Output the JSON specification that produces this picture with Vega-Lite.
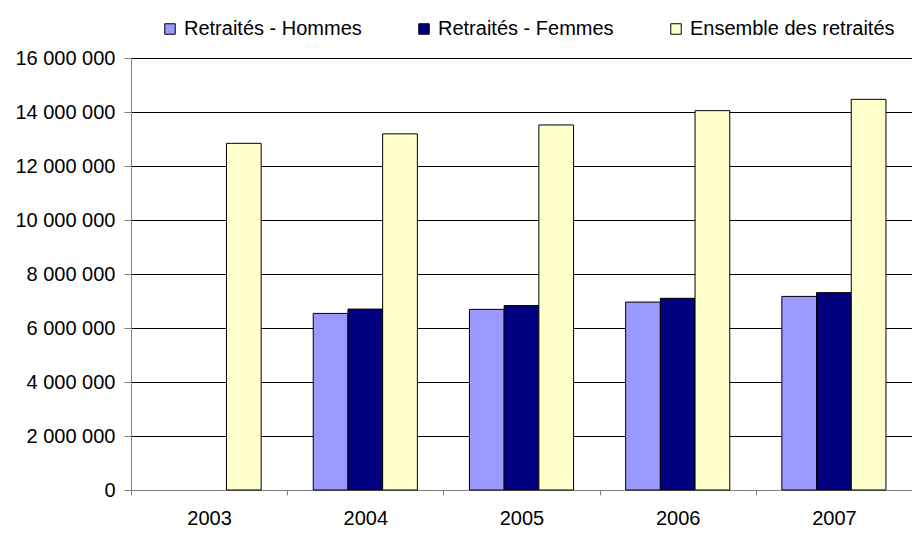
{
  "$schema": "https://vega.github.io/schema/vega-lite/v6.json",
  "width": 781,
  "height": 432,
  "autosize": {"type": "none"},
  "padding": {"left": 131, "top": 58, "right": 0, "bottom": 43},
  "background": "white",
  "config": {
    "font": "Liberation Sans",
    "view": {"stroke": null},
    "locale": {"number": {"decimal": ",", "thousands": " ", "grouping": [3], "currency": ["", " €"]}}
  },
  "data": {
    "values": [
      {"year": "2003", "series": "Ensemble des retraités", "value": 12840000},
      {"year": "2004", "series": "Retraités - Hommes", "value": 6540000},
      {"year": "2004", "series": "Retraités - Femmes", "value": 6700000},
      {"year": "2004", "series": "Ensemble des retraités", "value": 13190000},
      {"year": "2005", "series": "Retraités - Hommes", "value": 6690000},
      {"year": "2005", "series": "Retraités - Femmes", "value": 6830000},
      {"year": "2005", "series": "Ensemble des retraités", "value": 13520000},
      {"year": "2006", "series": "Retraités - Hommes", "value": 6960000},
      {"year": "2006", "series": "Retraités - Femmes", "value": 7100000},
      {"year": "2006", "series": "Ensemble des retraités", "value": 14050000},
      {"year": "2007", "series": "Retraités - Hommes", "value": 7170000},
      {"year": "2007", "series": "Retraités - Femmes", "value": 7310000},
      {"year": "2007", "series": "Ensemble des retraités", "value": 14470000}
    ]
  },
  "mark": {"type": "bar", "stroke": "#000000", "strokeWidth": 1},
  "encoding": {
    "x": {
      "field": "year",
      "type": "nominal",
      "scale": {"paddingInner": 0, "paddingOuter": 0},
      "axis": {
        "title": null,
        "labelAngle": 0,
        "labelFontSize": 20,
        "labelColor": "#000000",
        "labelPadding": 13,
        "tickBand": "extent",
        "tickSize": 5,
        "tickColor": "#808080",
        "domainColor": "#808080",
        "grid": false
      }
    },
    "xOffset": {
      "field": "series",
      "type": "nominal",
      "sort": ["Retraités - Hommes", "Retraités - Femmes", "Ensemble des retraités"],
      "scale": {"paddingInner": 0, "paddingOuter": 0.75}
    },
    "y": {
      "field": "value",
      "type": "quantitative",
      "scale": {"domain": [0, 16000000], "nice": false},
      "axis": {
        "title": null,
        "values": [0, 2000000, 4000000, 6000000, 8000000, 10000000, 12000000, 14000000, 16000000],
        "format": ",d",
        "labelFontSize": 20,
        "labelColor": "#000000",
        "labelPadding": 9,
        "tickSize": 7,
        "tickColor": "#808080",
        "domainColor": "#808080",
        "gridColor": "#000000",
        "gridWidth": 1,
        "gridOpacity": 1
      }
    },
    "color": {
      "field": "series",
      "type": "nominal",
      "sort": ["Retraités - Hommes", "Retraités - Femmes", "Ensemble des retraités"],
      "scale": {
        "domain": ["Retraités - Hommes", "Retraités - Femmes", "Ensemble des retraités"],
        "range": ["#9999FF", "#000080", "#FFFFCC"]
      },
      "legend": {
        "title": null,
        "orient": "none",
        "direction": "horizontal",
        "legendX": 29,
        "legendY": -39,
        "symbolType": "square",
        "symbolSize": 110,
        "symbolStrokeColor": "#000000",
        "symbolStrokeWidth": 1,
        "labelFontSize": 20,
        "labelColor": "#000000",
        "labelOffset": 4,
        "columnPadding": 52,
        "labelLimit": 400
      }
    }
  }
}
